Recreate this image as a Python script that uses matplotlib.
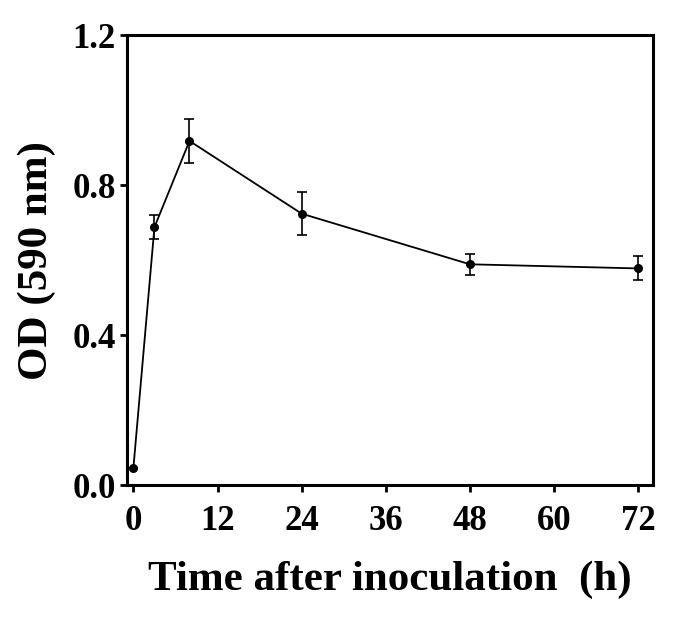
import matplotlib
matplotlib.use('Agg')
import matplotlib.pyplot as plt

# Datos
tiempo = [0, 3, 8, 24, 48, 72]
od = [0.046, 0.688, 0.918, 0.724, 0.589, 0.578]
error = [0.0, 0.032, 0.058, 0.057, 0.028, 0.032]

xticks = [0, 12, 24, 36, 48, 60, 72]
yticks = [0.0, 0.4, 0.8, 1.2]
ytick_labels = ['0.0', '0.4', '0.8', '1.2']

plt.rcParams['font.family'] = ['Liberation Serif', 'DejaVu Serif']
plt.rcParams['font.weight'] = 'bold'

fig = plt.figure(figsize=(6.76, 6.18), dpi=100)
ax = fig.add_axes([0.188, 0.215, 0.778, 0.728])

ax.errorbar(tiempo, od, yerr=error, color='black', linewidth=1.3,
            marker='o', markersize=5.5, capsize=3.3, elinewidth=1.2,
            capthick=1.2)

ax.set_xlim(-0.9, 74.1)
ax.set_ylim(0.0, 1.2)
ax.set_xticks(xticks)
ax.set_yticks(yticks)
ax.set_yticklabels(ytick_labels)

for lado in ['left', 'bottom', 'right', 'top']:
    ax.spines[lado].set_linewidth(2.2)

ax.tick_params(axis='both', direction='out', length=5, width=2,
               labelsize=25)
ax.tick_params(axis='x', pad=9)
ax.tick_params(axis='y', pad=3)
for etiqueta in ax.get_xticklabels() + ax.get_yticklabels():
    etiqueta.set_fontweight('bold')

ax.set_xlabel('Time after inoculation  (h)', fontsize=31, fontweight='bold')
ax.set_ylabel('OD (590 nm)', fontsize=31, fontweight='bold')
ax.xaxis.set_label_coords(0.5, -0.168)
ax.yaxis.set_label_coords(-0.135, 0.5)

fig.savefig('out.png', dpi=100)
